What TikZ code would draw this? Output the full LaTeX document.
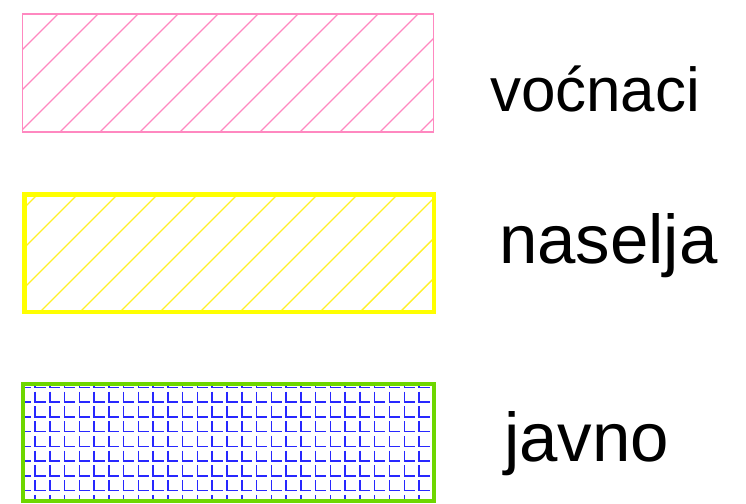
\documentclass[tikz,border=0pt]{standalone}
\usepackage{fontspec}
\setmainfont{Liberation Sans}
\definecolor{pinkc}{RGB}{255,136,192}
\definecolor{yellowc}{RGB}{255,255,0}
\definecolor{yhatch}{RGB}{255,240,40}
\definecolor{greenc}{RGB}{110,215,0}
\definecolor{bluec}{RGB}{40,40,255}
\tikzset{
  lbl/.style={anchor=base west, inner sep=0pt, outer sep=0pt},
  hatchline/.style={line width=1.4pt},
  legbox/.style={inner sep=0pt, outer sep=0pt, anchor=north west},
}
\begin{document}
\begin{tikzpicture}[x=1pt,y=-1pt]
\useasboundingbox (0,0) rectangle (746,503);
% pink box
\begin{scope}
  \clip (22.3,14.3) rectangle (433.3,131.7);
  \foreach \k in {0,...,16}{
    \pgfmathsetmacro{\c}{32+40*\k}
    \draw[pinkc,hatchline] (\c,0) -- ({\c-150},150);
  }
\end{scope}
\node[legbox, draw=pinkc, line width=1.6pt, minimum width=411pt, minimum height=117.4pt] (vocnaci) at (22.3,14.3) {};
% yellow box
\begin{scope}
  \clip (24.5,194.5) rectangle (434,312);
  \foreach \k in {4,...,19}{
    \pgfmathsetmacro{\c}{32+40*\k}
    \draw[yhatch,hatchline] (\c,0) -- ({\c-330},330);
  }
\end{scope}
\node[legbox, draw=yellowc, line width=4.3pt, minimum width=409.5pt, minimum height=117.5pt] (naselja) at (24.5,194.5) {};
% javno box
\begin{scope}
  \clip (23,384) rectangle (434,501);
  \foreach \i in {-1,...,27}{
    \foreach \j in {-1,...,8}{
      \pgfmathsetmacro{\xx}{35+14.77*\i}
      \pgfmathsetmacro{\yy}{387.3+14.77*\j}
      \draw[bluec, line width=1.5pt] (\xx,{\yy+4.3}) -- (\xx,{\yy+14.77}) -- ({\xx+10.5},{\yy+14.77});
    }
  }
\end{scope}
\node[legbox, draw=greenc, line width=4.3pt, minimum width=411pt, minimum height=117pt] (javno) at (23,384) {};
% labels
\node[lbl, font=\fontsize{62}{70}\selectfont] (t1) at (490,111) {voćnaci};
\node[lbl, font=\fontsize{69}{78}\selectfont] (t2) at (499,263) {naselja};
\node[lbl, font=\fontsize{69}{78}\selectfont] (t3) at (504,461.7) {javno};
\end{tikzpicture}
\end{document}
